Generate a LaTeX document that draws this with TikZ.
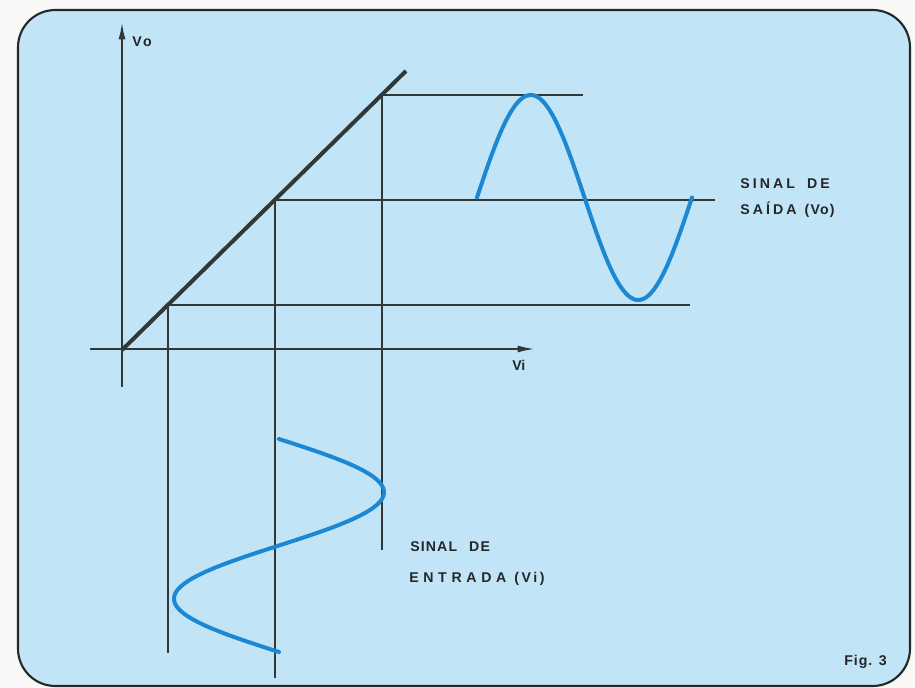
\documentclass[tikz,border=0pt]{standalone}
\usepackage{fontspec}
\setmainfont{Liberation Sans}
\usetikzlibrary{arrows.meta}
\definecolor{bgblue}{RGB}{193,229,247}
\definecolor{paper}{RGB}{248,249,247}
\definecolor{ink}{RGB}{50,55,55}
\definecolor{txt}{RGB}{36,38,40}
\definecolor{wave}{RGB}{28,136,212}
\newcommand{\lsp}[1]{\addfontfeatures{LetterSpace=#1}}
\begin{document}
\begin{tikzpicture}[x=0.75pt,y=-0.75pt,
  frame/.style={draw=txt, line width=1.6pt, fill=bgblue, rounded corners=28pt},
  axis/.style={draw=ink, line width=1.5pt, -{Latex[length=13pt,width=5.2pt]}},
  guide/.style={draw=ink, line width=0.9pt},
  transfer/.style={draw=ink, line width=3pt},
  signal/.style={draw=wave, line width=3pt, line cap=round, line join=round},
  lab/.style={inner sep=0pt, anchor=base west, text=txt,
    font=\fontsize{10.6pt}{12pt}\selectfont\bfseries}
]
\useasboundingbox (0,0) rectangle (915,688);
\fill[paper] (0,0) rectangle (915,688);
\path[frame] (18,10) rectangle (910,686);

% named points
\coordinate (O) at (122,350);
\coordinate (T) at (406,71);
\coordinate (yb) at (122,387);
\coordinate (yt) at (122,22);
\coordinate (xl) at (90,349);
\coordinate (xr) at (535,349);
\coordinate (A) at (168,305);
\coordinate (B) at (275,200);
\coordinate (C) at (382,95);
\coordinate (Ah) at (690,305);
\coordinate (Av) at (168,653);
\coordinate (Bh) at (715,200);
\coordinate (Bv) at (275,678);
\coordinate (Ch) at (583,95);
\coordinate (Cv) at (382,550);

% guides
\draw[guide] (A) -- (Ah);
\draw[guide] (A) -- (Av);
\draw[guide] (B) -- (Bh);
\draw[guide] (B) -- (Bv);
\draw[guide] (C) -- (Ch);
\draw[guide] (C) -- (Cv);

% axes
\draw[axis] (yb) -- (yt);
\draw[axis] (xl) -- (xr);

% transfer characteristic
\draw[transfer] (O) -- (T);

% output signal
\draw[signal] plot[domain=0:215, samples=120, smooth]
  ({477+\x},{197.5-102.5*sin(\x/215*360)});
% input signal
\draw[signal] plot[domain=0:213, samples=120, smooth]
  ({279+105*sin(\x/213*360)},{439+\x});

% labels
\node[lab] (vo) at (132,47) {\lsp{18}Vo};
\node[lab] (vi) at (512,371) {Vi};
\node[lab] (so1) at (740,189) {\lsp{22}SINAL\hspace{9pt}DE};
\node[lab] (so2) at (740,214.5) {{\lsp{22}SAÍDA}\hspace{6pt}{\lsp{8}(Vo)}};
\node[lab] (si1) at (410,551.5) {\lsp{8}SINAL\hspace{9pt}DE};
\node[lab] (si2) at (409,582.5) {{\lsp{33}ENTRADA}\hspace{6pt}{\lsp{18}(Vi)}};
\node[lab] (fig) at (844,665) {\lsp{7}Fig. 3};
\end{tikzpicture}
\end{document}
